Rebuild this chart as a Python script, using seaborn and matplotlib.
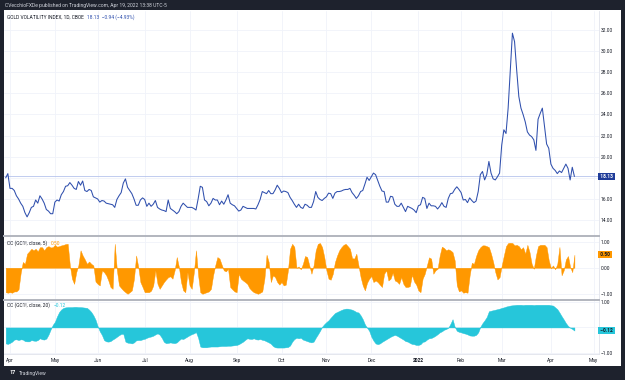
import numpy as np
import pandas as pd
import matplotlib
matplotlib.use("Agg")
import matplotlib.pyplot as plt
import matplotlib.transforms as mtransforms
from matplotlib.patches import Rectangle
from matplotlib.ticker import FuncFormatter
import seaborn as sns

# one value per trading day, 2021-03-30 -> 2022-04-19
gvz = [
    18.0, 18.4, 17.0, 17.0, 16.8, 16.3, 16.0, 15.6, 15.3, 14.7,
    14.3, 14.7, 15.2, 15.3, 15.9, 15.6, 16.3, 16.0, 15.6, 15.0,
    14.85, 14.6, 14.6, 15.7, 15.9, 15.8, 16.4, 16.7, 17.2, 17.25,
    17.55, 17.3, 17.0, 16.9, 17.65, 17.3, 17.7, 16.8, 16.7, 16.9,
    16.8, 16.2, 16.1, 16.0, 15.7, 15.85, 15.8, 15.6, 15.55, 15.5,
    15.45, 15.2, 15.95, 16.3, 16.6, 17.5, 17.9, 17.1, 16.8, 16.5,
    16.0, 15.4, 15.4, 15.9, 16.1, 15.95, 15.3, 15.6, 15.3, 15.5,
    15.85, 15.2, 15.05, 14.95, 14.9, 14.8, 15.9, 15.1, 14.95, 14.8,
    14.6, 14.8, 15.3, 15.6, 15.4, 15.2, 15.2, 15.2, 15.1, 14.95,
    16.0, 17.2, 17.1, 15.9, 15.75, 15.35, 15.6, 16.05, 15.9, 15.9,
    15.45, 15.8, 15.5, 15.9, 16.4, 15.6, 15.45, 15.35, 15.1, 14.85,
    14.95, 15.3, 15.2, 15.1, 15.1, 15.1, 15.1, 15.05, 15.45, 15.95,
    16.7, 16.6, 16.5, 16.8, 16.5, 16.5, 16.85, 17.3, 17.0, 16.6,
    16.75, 16.7, 16.6, 16.15, 15.85, 15.5, 15.2, 15.5, 15.2, 15.1,
    15.5, 15.4, 15.2, 15.2, 15.75, 16.7, 16.15, 15.95, 15.85, 16.05,
    16.2, 16.55, 16.5, 16.05, 16.55, 16.7, 16.7, 16.75, 16.85, 16.9,
    16.9, 17.0, 16.6, 16.35, 16.05, 16.3, 16.7, 16.8, 17.4, 18.05,
    17.75, 18.1, 18.45, 18.3, 17.75, 17.2, 16.75, 16.7, 15.7, 15.7,
    16.25, 16.2, 15.5, 15.3, 15.3, 15.6, 15.2, 14.8, 15.3, 15.2,
    15.1, 14.95, 14.7, 15.35, 15.45, 16.15, 16.05, 15.1, 15.6, 15.35,
    15.35, 15.3, 15.05, 15.3, 15.65, 15.3, 15.2, 16.05, 16.5, 16.55,
    16.9, 17.15, 16.9, 16.6, 15.9, 15.95, 15.65, 16.1, 15.85, 15.65,
    15.8, 16.7, 18.3, 18.6, 17.8, 18.3, 19.55, 18.45, 17.9, 17.8,
    18.1, 18.45, 21.1, 22.55, 22.2, 24.6, 28.2, 31.7, 30.9, 28.2,
    25.7, 24.6, 24.0, 23.3, 22.35, 22.05, 21.9, 21.6, 20.6, 23.55,
    24.1, 24.6, 22.9, 21.2, 20.8, 19.3, 18.9, 18.7, 18.4, 18.65,
    18.5, 18.9, 19.3, 18.9, 17.8, 19.0, 18.13,
]

cc5 = [
    -0.94, -0.96, -0.94, -0.96, -0.91, -0.91, -0.83, -0.2, 0.22, 0.15,
    0.54, 0.63, 0.73, 0.67, 0.73, 0.63, 0.79, 0.79, 0.67, 0.79,
    0.83, 0.78, 0.79, 0.88, 0.81, 0.83, 0.86, 0.88, 0.91, 0.92,
    0.09, -0.42, -0.62, -0.17, 0.1, 0.67, 0.47, 0.32, 0.15, 0.24,
    0.15, 0.09, -0.53, -0.62, -0.68, -0.1, -0.17, -0.29, -0.49, -0.74,
    -0.81, 0.92, -0.1, -0.68, -0.78, -0.87, -0.94, -1.0, -0.94, -0.87,
    -0.42, 0.47, 0.03, -0.55, -0.74, -0.94, -0.94, -0.94, -0.88, -0.68,
    -0.1, -0.62, -0.81, -0.68, -0.55, -0.45, -0.36, -0.33, -0.42, -0.1,
    0.41, 0.03, -0.55, -0.87, -0.94, -0.17, -0.68, -0.81, -0.17, 0.67,
    -0.29, -0.94, -1.0, -0.97, -0.94, -0.91, -0.81, -0.29, 0.09, 0.41,
    0.35, 0.12, -0.1, -0.14, -0.04, -0.74, -0.83, -0.91, -0.94, -0.23,
    -0.42, -0.49, -0.55, -0.62, -0.78, -0.87, -0.94, -0.97, -1.0, -0.96,
    -0.91, -0.42, 0.5, 0.22, -0.55, -0.29, -0.36, -0.55, -0.65, -0.55,
    -0.68, -0.65, -0.1, 0.73, 0.92, 0.8, 0.0, 0.05, -0.06, 0.15,
    0.45, 0.41, 0.09, -0.23, 0.09, 0.67, 0.92, 0.95, 0.79, 0.41,
    -0.1, -0.42, -0.46, -0.23, 0.22, 0.47, 0.67, 0.79, 0.88, 0.92,
    0.83, 0.73, 0.37, 0.35, 0.54, 0.09, -0.36, -0.68, -0.87, -0.58,
    -0.42, -0.32, -0.55, -0.49, -0.55, -0.65, -0.74, -0.23, -0.1, -0.49,
    -0.42, -0.19, -0.49, -0.53, -0.62, -0.36, -0.62, -0.74, -0.74, -0.71,
    -0.27, -0.53, -0.65, -0.87, -0.94, -0.42, -0.23, 0.09, 0.4, 0.35,
    -0.23, -0.1, -0.04, 0.47, 0.81, 0.76, 0.67, 0.71, 0.67, 0.6,
    0.28, -0.68, -0.91, -0.87, -0.96, -0.94, -0.96, -0.29, 0.19, 0.15,
    0.45, 0.67, 0.79, 0.86, 0.86, 0.83, 0.79, 0.54, 0.22, -0.17,
    -0.45, -0.36, 0.09, 0.47, 0.83, 0.95, 0.96, 0.95, 0.86, 0.88,
    0.83, 0.71, 0.79, 0.54, 0.88, 0.6, 0.15, -0.04, 0.47, 0.83,
    0.88, 0.88, 0.88, 0.79, 0.28, -0.01, 0.09, -0.06, 0.15, 0.8,
    -0.29, -0.1, 0.32, 0.45, 0.03, -0.17, 0.5,
]

cc20 = [
    -0.62, -0.64, -0.6, -0.55, -0.47, -0.46, -0.49, -0.46, -0.47, -0.53,
    -0.54, -0.54, -0.49, -0.51, -0.52, -0.49, -0.42, -0.46, -0.47, -0.43,
    -0.28, -0.08, 0.1, 0.22, 0.43, 0.6, 0.7, 0.76, 0.78, 0.79,
    0.79, 0.79, 0.8, 0.8, 0.79, 0.79, 0.78, 0.77, 0.76, 0.69,
    0.6, 0.47, 0.3, 0.05, -0.15, -0.29, -0.49, -0.54, -0.55, -0.53,
    -0.47, -0.42, -0.36, -0.3, -0.25, -0.25, -0.55, -0.59, -0.6, -0.62,
    -0.58, -0.5, -0.49, -0.49, -0.46, -0.44, -0.4, -0.37, -0.35, -0.32,
    -0.27, -0.23, -0.28, -0.4, -0.56, -0.61, -0.6, -0.58, -0.6, -0.61,
    -0.58, -0.5, -0.43, -0.45, -0.4, -0.35, -0.3, -0.26, -0.23, -0.18,
    -0.4, -0.74, -0.77, -0.77, -0.77, -0.75, -0.74, -0.74, -0.74, -0.74,
    -0.73, -0.72, -0.72, -0.72, -0.71, -0.71, -0.7, -0.69, -0.68, -0.65,
    -0.6, -0.55, -0.48, -0.42, -0.44, -0.45, -0.42, -0.46, -0.47, -0.45,
    -0.48, -0.5, -0.54, -0.58, -0.63, -0.72, -0.77, -0.78, -0.78, -0.78,
    -0.78, -0.77, -0.76, -0.7, -0.55, -0.45, -0.4, -0.42, -0.4, -0.47,
    -0.5, -0.53, -0.56, -0.58, -0.55, -0.4, -0.27, -0.13, 0.03, 0.13,
    0.21, 0.28, 0.38, 0.47, 0.56, 0.6, 0.64, 0.68, 0.71, 0.73,
    0.73, 0.71, 0.69, 0.65, 0.6, 0.58, 0.47, 0.32, 0.12, -0.01,
    -0.13, -0.36, -0.51, -0.62, -0.65, -0.62, -0.56, -0.51, -0.46, -0.41,
    -0.36, -0.32, -0.29, -0.32, -0.37, -0.42, -0.47, -0.53, -0.55, -0.6,
    -0.64, -0.65, -0.68, -0.68, -0.65, -0.56, -0.54, -0.47, -0.42, -0.41,
    -0.37, -0.32, -0.26, -0.19, -0.15, -0.09, -0.06, -0.01, 0.14, 0.32,
    0.03, -0.13, -0.17, -0.19, -0.22, -0.24, -0.27, -0.31, -0.32, -0.32,
    -0.29, -0.19, 0.03, 0.17, 0.28, 0.41, 0.63, 0.65, 0.67, 0.69,
    0.71, 0.73, 0.76, 0.78, 0.81, 0.83, 0.85, 0.86, 0.87, 0.88,
    0.88, 0.88, 0.87, 0.88, 0.88, 0.88, 0.88, 0.87, 0.88, 0.88,
    0.88, 0.88, 0.88, 0.88, 0.88, 0.86, 0.85, 0.78, 0.71, 0.58,
    0.44, 0.31, 0.17, 0.06, -0.01, -0.06, -0.12,
]

holidays = ["2021-04-02", "2021-05-31", "2021-07-05", "2021-09-06", "2021-11-25",
            "2021-12-24", "2022-01-17", "2022-02-21", "2022-04-15"]

title = "GOLD VOLATILITY INDEX, 1D, CBOE"
title_vals = "18.13  \u22120.94 (\u22124.93%)"
cc5_name, cc5_last = "CC (GC1!, close, 5)", "0.50"
cc20_name, cc20_last = "CC (GC1!, close, 20)", "\u22120.12"
header = "CVecchioFXDe published on TradingView.com, Apr 19, 2022 13:38 UTC-5"

DARK = "#1e222d"
TXT = "#131722"
BLUE = "#2f4fad"
ORANGE = "#ff9800"
TEAL = "#26c6da"
FS = 3.5

# trading-day calendar (TradingView skips non-trading days on the x axis)
cal = pd.bdate_range("2021-03-30", "2022-05-06")
cal = cal[~cal.isin(pd.to_datetime(holidays))]
df = pd.DataFrame({"pos": np.arange(len(gvz)), "date": cal[:len(gvz)],
                   "gvz": gvz, "cc5": cc5, "cc20": cc20})

tick_pos, tick_lab = [], []
prev = None
for i, d in enumerate(cal):
    if d < pd.Timestamp("2021-04-01"):
        continue
    if (d.year, d.month) != prev:
        prev = (d.year, d.month)
        tick_pos.append(i)
        tick_lab.append(str(d.year) if d.month == 1 else d.strftime("%b"))

sns.set_theme(style="white")
plt.rcParams["font.family"] = ["Roboto", "DejaVu Sans"]

fig = plt.figure(figsize=(6.25, 3.8), dpi=100, facecolor=DARK)
fig.patches.append(Rectangle((4 / 625, 1 - 366 / 380), 617 / 625, 356 / 380,
                             transform=fig.transFigure, fc="white", ec="none", zorder=-5))

L, W = 4 / 625, 595 / 625
ax0 = fig.add_axes([L, 1 - 236 / 380, W, 225 / 380])
ax1 = fig.add_axes([L, 1 - 300 / 380, W, 64 / 380], sharex=ax0)
ax2 = fig.add_axes([L, 1 - 354 / 380, W, 54 / 380], sharex=ax0)

sns.lineplot(data=df, x="pos", y="gvz", ax=ax0, color=BLUE, linewidth=0.75, zorder=3)
ax0.axhline(18.13, color="#b7c4ec", lw=0.6, zorder=2)
ax1.fill_between(df["pos"], 0, df["cc5"], color=ORANGE, lw=0.3, interpolate=True, zorder=3)
ax2.fill_between(df["pos"], 0, df["cc20"], color=TEAL, lw=0.3, interpolate=True, zorder=3)


def right_fmt(hidden):
    # scale labels hidden behind the last-value tag are left blank
    def f(v, p):
        if any(abs(v - h) < 1e-9 for h in hidden):
            return ""
        return f"{v:.2f}".replace("-", "\u2212")
    return FuncFormatter(f)


ax0.set_ylim(12.49, 33.8)
ax0.set_yticks(np.arange(14, 33, 2))
ax1.set_ylim(-1.24, 1.22)
ax1.set_yticks([-1, 0, 1])
ax2.set_ylim(-1.03, 1.065)
ax2.set_yticks([-1, 0, 1])
ax0.yaxis.set_major_formatter(right_fmt([18]))
ax1.yaxis.set_major_formatter(right_fmt([]))
ax2.yaxis.set_major_formatter(right_fmt([0]))
ax0.set_xlim(-0.8, 277.5)
ax2.set_xticks(tick_pos)
ax2.set_xticklabels(tick_lab)
for lab in ax2.get_xticklabels():
    if lab.get_text() == "2022":
        lab.set_fontweight("bold")

for ax in (ax0, ax1, ax2):
    ax.set_facecolor("white")
    ax.set_xlabel("")
    ax.set_ylabel("")
    ax.yaxis.tick_right()
    ax.tick_params(axis="both", length=0, labelsize=FS, labelcolor=TXT, pad=1.2)
    ax.grid(True, color="#f0f3fa", linewidth=0.6)
    ax.set_axisbelow(True)
    for s in ax.spines.values():
        s.set_visible(False)
    ax.spines["right"].set_visible(True)
    ax.spines["right"].set_color("#e0e3eb")
    ax.spines["right"].set_linewidth(0.6)
for ax in (ax1, ax2):
    ax.spines["top"].set_visible(True)
    ax.spines["top"].set_color("#b2b5be")
    ax.spines["top"].set_linewidth(1.4)
ax2.spines["bottom"].set_visible(True)
ax2.spines["bottom"].set_color("#e0e3eb")
ax2.spines["bottom"].set_linewidth(0.6)
ax0.tick_params(labelbottom=False)
ax1.tick_params(labelbottom=False)
ax2.tick_params(axis="x", pad=2.6)


def price_tag(ax, y, text, fc, tc):
    trans = mtransforms.blended_transform_factory(ax.transAxes, ax.transData)
    ax.text(1.0, y, " " + text + " ", transform=trans, ha="left", va="center",
            fontsize=FS, fontweight="bold", color=tc, zorder=10, clip_on=False,
            bbox=dict(boxstyle="square,pad=0.25", fc=fc, ec="none"))


def legend(ax, y, name, value, color):
    t = ax.annotate(name, xy=(0.005, y), xycoords="axes fraction", ha="left",
                    va="center", fontsize=FS, color=TXT)
    ax.annotate(value, xy=(1, 0.5), xycoords=t, xytext=(2.5, 0), textcoords="offset points",
                ha="left", va="center", fontsize=FS, color=color)


price_tag(ax0, 18.13, "18.13", "#1f3c99", "white")
price_tag(ax1, 0.50, "0.50", ORANGE, TXT)
price_tag(ax2, -0.12, "\u22120.12", TEAL, TXT)

legend(ax0, 0.973, title, title_vals, BLUE)
legend(ax1, 0.89, cc5_name, cc5_last, ORANGE)
legend(ax2, 0.9, cc20_name, cc20_last, TEAL)

fig.text(0.008, 1 - 5 / 380, header, color="#d1d4dc", fontsize=3.6, va="center", ha="left")
fig.text(0.016, 1 - 373 / 380, "17", color="white", fontsize=4, fontweight="bold",
         va="center", ha="left")
fig.text(0.031, 1 - 373 / 380, "TradingView", color="#d1d4dc", fontsize=3.6,
         va="center", ha="left")

fig.savefig("out.png", dpi=100, facecolor=fig.get_facecolor())
